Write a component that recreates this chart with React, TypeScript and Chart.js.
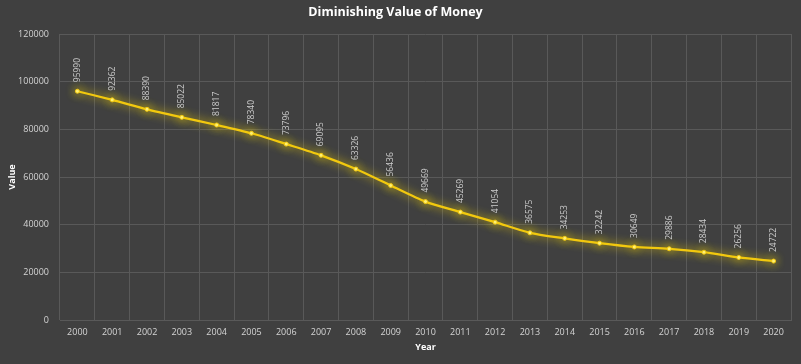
import React, { useEffect, useRef } from "react";
import { Chart, registerables } from "chart.js";

Chart.register(...registerables);

const years = ["2000","2001","2002","2003","2004","2005","2006","2007","2008","2009","2010","2011","2012","2013","2014","2015","2016","2017","2018","2019","2020"];
const values = [95990,92362,88390,85022,81817,78340,73796,69095,63326,56436,49669,45269,41054,36575,34253,32242,30649,29886,28434,26256,24722];
const chartTitle = "Diminishing Value of Money";
const xTitle = "Year";
const yTitle = "Value";

const BG = "#404040";
const GRID = "#595959";
const TICK = "#d4d4d4";
const LINE = "#f2c80f";

const bgPlugin = {
  id: "bg",
  beforeDraw(chart: any) {
    const { ctx, width, height } = chart;
    ctx.save();
    ctx.fillStyle = BG;
    ctx.fillRect(0, 0, width, height);
    ctx.restore();
  },
};

const glowPlugin = {
  id: "glow",
  beforeDatasetDraw(chart: any) {
    const ctx = chart.ctx;
    ctx.save();
    ctx.shadowColor = "rgba(255, 220, 0, 1)";
    ctx.shadowBlur = 10;
  },
  afterDatasetDraw(chart: any) {
    chart.ctx.restore();
  },
};

const labelPlugin = {
  id: "vlabels",
  afterDatasetsDraw(chart: any) {
    const ctx = chart.ctx;
    const meta = chart.getDatasetMeta(0);
    const data = chart.data.datasets[0].data as number[];
    ctx.save();
    ctx.fillStyle = "#cccccc";
    ctx.font = "8.5px 'Open Sans'";
    ctx.textAlign = "left";
    ctx.textBaseline = "middle";
    meta.data.forEach((pt: any, i: number) => {
      ctx.save();
      ctx.translate(pt.x, pt.y - 9);
      ctx.rotate(-Math.PI / 2);
      ctx.fillText(String(data[i]), 0, 0);
      ctx.restore();
    });
    ctx.restore();
  },
};

export default function App() {
  const ref = useRef<HTMLCanvasElement>(null);
  useEffect(() => {
    if (!ref.current) return;
    const chart = new Chart(ref.current, {
      type: "line",
      data: {
        labels: years,
        datasets: [
          {
            data: values,
            borderColor: LINE,
            borderWidth: 2.25,
            pointRadius: 2,
            pointBackgroundColor: "#fff27a",
            pointBorderColor: LINE,
            pointBorderWidth: 1,
            tension: 0.25,
            fill: false,
          },
        ],
      },
      options: {
        responsive: false,
        animation: false,
        layout: { padding: { left: 0, right: 10, top: 0, bottom: 0 } },
        plugins: {
          legend: { display: false },
          tooltip: { enabled: false },
          title: {
            display: true,
            text: chartTitle,
            color: "#ffffff",
            font: { family: "'Open Sans'", size: 12.5, weight: "bold" },
            padding: { top: 5, bottom: 14 },
          },
        },
        scales: {
          x: {
            offset: true,
            grid: { color: GRID, offset: true, drawTicks: false, lineWidth: 1 },
            border: { color: GRID },
            ticks: { color: TICK, font: { family: "'Open Sans'", size: 9 }, padding: 7, maxRotation: 0, autoSkip: false },
            title: {
              display: true,
              text: xTitle,
              color: "#ffffff",
              font: { family: "'Open Sans'", size: 9, weight: "bold" },
              padding: { top: 4, bottom: 11 },
            },
            afterFit(scale: any) {
              scale.height = 44;
            },
          },
          y: {
            min: 0,
            max: 120000,
            grid: { color: GRID, drawTicks: false },
            border: { display: false },
            ticks: {
              stepSize: 20000,
              color: TICK,
              font: { family: "'Open Sans'", size: 9 },
              padding: 11,
              callback: (v: any) => String(v),
            },
            title: {
              display: true,
              text: yTitle,
              color: "#ffffff",
              font: { family: "'Open Sans'", size: 9, weight: "bold" },
              padding: { top: 7, bottom: 4 },
            },
            afterFit(scale: any) {
              scale.width = 60;
            },
          },
        },
      },
      plugins: [bgPlugin, glowPlugin, labelPlugin],
    });
    return () => chart.destroy();
  }, []);
  return (
    <div style={{ position: "absolute", left: 0, top: 0, width: 801, height: 364, background: BG }}>
      <canvas ref={ref} width={801} height={364} style={{ display: "block" }} />
    </div>
  );
}
